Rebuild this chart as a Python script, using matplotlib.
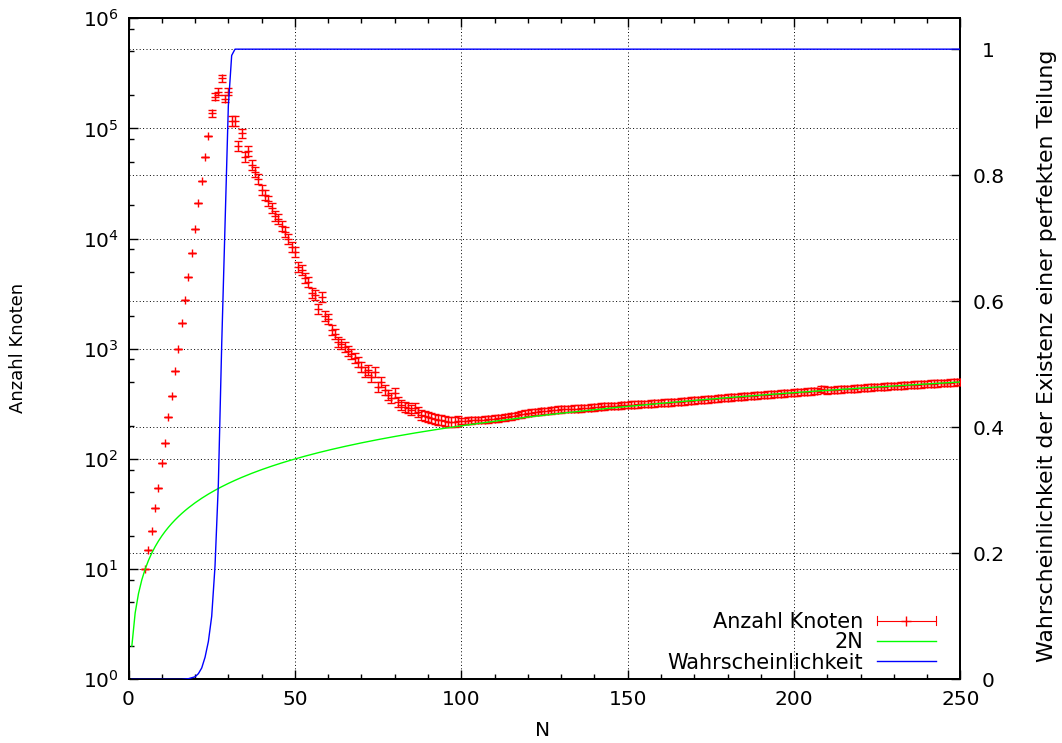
import numpy as np
import matplotlib
matplotlib.use("Agg")
import matplotlib.pyplot as plt
from matplotlib.lines import Line2D
from matplotlib.legend_handler import HandlerBase
from matplotlib.ticker import (LogLocator, LogFormatterMathtext, NullFormatter,
                               MultipleLocator, FixedLocator, FixedFormatter)

plt.rcParams['font.family'] = ['DejaVu Sans']
plt.rcParams['font.size'] = 14.5

# Anzahl Knoten, one point per N (N = 5 .. 250)
knoten_n = np.arange(5, 251)
knoten = [
    10, 15, 22, 36, 55, 92, 140, 240, 375, 630,
    1000, 1700, 2750, 4500, 7400, 12300, 21000, 33000, 55000, 86000,
    137000, 194000, 215000, 285000, 187000, 215000, 118000, 118000, 69000, 90000,
    55000, 63000, 47000, 40000, 34500, 27500, 25000, 22000, 19000, 16000,
    15000, 13000, 11500, 10000, 8400, 7500, 5500, 5200, 4400, 4000,
    3200, 3100, 2300, 2950, 2000, 1850, 1480, 1350, 1150, 1100,
    1040, 950, 900, 830, 760, 690, 615, 640, 560, 615,
    450, 500, 420, 380, 360, 395, 330, 310, 295, 290,
    280, 290, 265, 250, 245, 240, 235, 232, 228, 225,
    220, 215, 218, 216, 220, 222,
    222, 223, 224, 225, 226, 227, 228, 229, 230, 232,
    234, 236, 238, 240, 243, 246, 250, 254, 258, 261,
    264, 266, 268, 270, 272, 274, 276, 278, 280, 282,
    283, 284, 285, 286, 287, 288, 289, 290, 292, 294,
    296, 298, 300, 301, 302, 303, 304, 306, 308, 309,
    311, 312, 313, 314, 316, 317, 318, 320, 321, 322,
    324, 325, 327, 328, 330, 332, 334, 336, 338, 340,
    342, 344, 346, 348, 350, 352, 354, 356, 358, 360,
    362, 364, 366, 368, 370, 372, 374, 376, 378, 380,
    382, 384, 386, 388, 390, 392, 394, 396, 398, 400,
    402, 404, 406, 408, 410, 412, 414, 430, 426, 420,
    422, 424, 426, 428, 430, 432, 434, 436, 438, 440,
    442, 444, 446, 448, 450, 452, 454, 456, 458, 460,
    462, 464, 466, 468, 470, 472, 474, 476, 478, 480,
    482, 484, 486, 488, 490, 492, 494, 496, 498, 500,
]
# error bar size (multiplicative factor) for ranges of N
knoten_err = [(5, 24, 1.0), (25, 30, 1.076), (31, 99, 1.11), (100, 250, 1.07)]

# 2N reference line
zwei_n = np.arange(1, 251)

# probability of a perfect partition (right axis)
prob_n = [1, 16, 18, 20, 21, 22, 23, 24, 25, 26, 27, 28, 29, 30, 31, 32, 250]
prob = [0, 0, 0.001, 0.004, 0.009, 0.018, 0.035, 0.06, 0.10, 0.18, 0.31,
        0.53, 0.72, 0.91, 0.99, 1.0, 1.0]


class ErrbarSample(HandlerBase):
    # gnuplot-style key sample: horizontal line, end caps, + in the middle
    def create_artists(self, legend, orig, xd, yd, w, h, fontsize, trans):
        x0, x1 = -xd, -xd + w
        y = -yd + h / 2
        c = 0.3 * h
        kw = dict(color='red', lw=0.8, transform=trans)
        return [Line2D([x0, x1], [y, y], **kw),
                Line2D([x0, x0], [y - c, y + c], **kw),
                Line2D([x1, x1], [y - c, y + c], **kw),
                Line2D([(x0 + x1) / 2], [y], marker='+', ms=7, mew=1, **kw)]


fig = plt.figure(figsize=(10.62, 7.43), dpi=100)
ax = fig.add_axes([0.121, 0.0857, 0.7834, 0.8897])
ax2 = ax.twinx()
ax.set_zorder(ax2.get_zorder() + 1)
ax.patch.set_visible(False)
ax2.patch.set_visible(True)
ax2.xaxis.set_visible(False)

ax.set_xlim(0, 250)
ax.set_yscale('log')
ax.set_ylim(1, 1e6)
ax2.set_ylim(0, 1.049)

grid_kw = dict(linestyle=(0, (1, 2.5)), color='black', linewidth=0.7)
ax.grid(True, which='major', axis='both', **grid_kw)
ax2.grid(True, which='major', axis='y', **grid_kw)
ax.set_axisbelow(True)

vals = np.array(knoten, dtype=float)
fac = np.ones_like(vals)
for lo, hi, f in knoten_err:
    fac[(knoten_n >= lo) & (knoten_n <= hi)] = f
ax.errorbar(knoten_n, vals, yerr=[vals - vals / fac, vals * fac - vals],
            fmt='+', color='red', ms=6, mew=1, elinewidth=0.8,
            capsize=3, capthick=0.8, zorder=3)
green_line, = ax.plot(zwei_n, 2 * zwei_n, color='#00ff00', lw=1, zorder=4)
blue_line, = ax.plot(prob_n, prob, color='blue', lw=1, zorder=5,
                     transform=ax2.transData)

# ticks
ax.xaxis.set_major_locator(MultipleLocator(50))
ax.xaxis.set_minor_locator(MultipleLocator(10))
ax.yaxis.set_major_locator(LogLocator(base=10, numticks=10))
ax.yaxis.set_major_formatter(LogFormatterMathtext())
ax.yaxis.set_minor_locator(LogLocator(base=10, subs=[2, 5, 8], numticks=10))
ax.yaxis.set_minor_formatter(NullFormatter())
ax.tick_params(axis='x', which='both', direction='in', top=True, bottom=True)
ax.tick_params(axis='x', which='major', length=6.5, width=1, pad=8)
ax.tick_params(axis='x', which='minor', length=3.6, width=1)
ax.tick_params(axis='y', which='both', direction='in', left=True, right=False)
ax.tick_params(axis='y', which='major', length=6.5, width=1, pad=7)
ax.tick_params(axis='y', which='minor', length=3.6, width=1)

ax2.yaxis.set_major_locator(FixedLocator([0, 0.2, 0.4, 0.6, 0.8, 1.0]))
ax2.yaxis.set_major_formatter(FixedFormatter(['0', '0.2', '0.4', '0.6', '0.8', '1']))
ax2.tick_params(axis='y', direction='in', length=6.5, width=1, pad=20)
for t in ax2.get_yticklabels():
    t.set_ha('center')

for a in (ax, ax2):
    for s in a.spines.values():
        s.set_linewidth(1.3)

fig.text(543 / 1062, 1 - 730 / 743, 'N', ha='center', va='center', fontsize=14.5)
fig.text(18 / 1062, 1 - 348 / 743, 'Anzahl Knoten', rotation=90,
         ha='center', va='center', fontsize=13)
fig.text(1047 / 1062, 1 - 356 / 743,
         'Wahrscheinlichkeit der Existenz einer perfekten Teilung',
         rotation=90, ha='center', va='center', fontsize=15.8)

red_proxy = Line2D([], [], color='red')
ax.legend([red_proxy, green_line, blue_line],
          ['Anzahl Knoten', '2N', 'Wahrscheinlichkeit'],
          handler_map={red_proxy: ErrbarSample()},
          loc='lower right', bbox_to_anchor=(0.9706, 0.010),
          frameon=False, markerfirst=False, handlelength=2.84,
          handletextpad=0.67, labelspacing=0.02, borderpad=0,
          borderaxespad=0, fontsize=15)

fig.savefig('out.png', dpi=100)
